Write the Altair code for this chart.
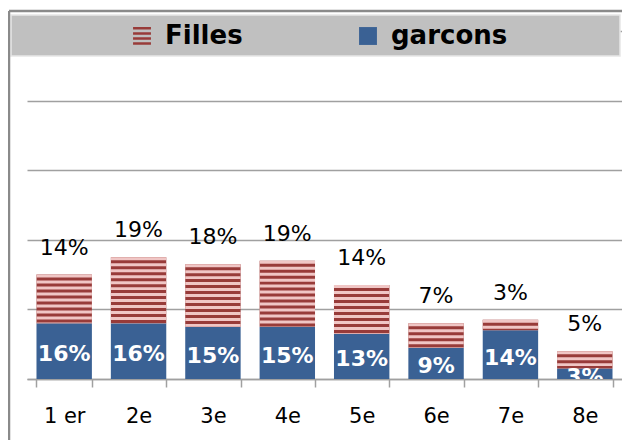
import altair as alt
import pandas as pd

categories = ["1 er", "2e", "3e", "4e", "5e", "6e", "7e", "8e"]
garcons = [16, 16, 15, 15, 13, 9, 14, 3]
filles = [14, 19, 18, 19, 14, 7, 3, 5]

series = ["Filles", "garcons"]
BLUE = "#3A6194"
DARK = "#983B39"
LIGHT = "#F0C6C5"
FONT = "DejaVu Sans"

rows = []
for c, g, f in zip(categories, garcons, filles):
    rows.append(dict(cat=c, sexe="garcons", y0=0, y1=g, mid=g / 2, label=f"{g}%"))
    rows.append(dict(cat=c, sexe="Filles", y0=g, y1=g + f, mid=g + f / 2, label=f"{f}%"))
df = pd.DataFrame(rows)

# light stripes of the hatched "Filles" segments (pattern decoration)
pitch = 1.72
srows = []
for c, g, f in zip(categories, garcons, filles):
    top = g + f
    s = top
    while s > g:
        srows.append(dict(cat=c, s0=max(s - pitch / 2, g), s1=s))
        s -= pitch
sdf = pd.DataFrame(srows)

xenc = alt.X(
    "cat:N", sort=categories,
    scale=alt.Scale(paddingInner=0.255, paddingOuter=0.1275),
    axis=alt.Axis(title=None, labelAngle=0, tickBand="extent", labelFont=FONT,
                  labelFontSize=21, labelColor="#000000", labelPadding=18,
                  domainColor="#a0a0a0", domainWidth=1.5, tickColor="#a0a0a0",
                  tickWidth=1.5, tickSize=8),
)
yscale = alt.Scale(domain=[0, 100], nice=False)
yaxis = alt.Axis(title=None, values=[0, 20, 40, 60, 80, 100], labels=False, ticks=False,
                 domain=False, grid=True, gridColor="#a0a0a0", gridWidth=1.5)

stripe_path = ("M-1,-1H1V-0.72H-1Z M-1,-0.43H1V-0.15H-1Z "
               "M-1,0.14H1V0.42H-1Z M-1,0.71H1V0.99H-1Z")

legend = alt.Legend(title=None, orient="none", legendX=102, legendY=-8,
                    direction="horizontal", labelFont=FONT, labelFontSize=26,
                    labelFontWeight="bold", labelColor="#000000", symbolSize=320,
                    symbolStrokeWidth=0, columnPadding=112, labelOffset=10, padding=0)
color = alt.Color("sexe:N", scale=alt.Scale(domain=series, range=[DARK, BLUE]), legend=legend)
shape = alt.Shape("sexe:N", scale=alt.Scale(domain=series, range=[stripe_path, "square"]),
                  legend=legend)

one = pd.DataFrame({"k": [0]})
box = alt.Chart(one).mark_rect(
    fill="#c0c0c0", stroke="#e6e6e6", strokeWidth=1.5
).encode(x=alt.value(-16), x2=alt.value(593), y=alt.value(-16), y2=alt.value(25))

frame_top = alt.Chart(one).mark_rule(color="#8a8a8a", strokeWidth=2.5).encode(
    x=alt.value(-18), x2=alt.value(600), y=alt.value(-20))
frame_left = alt.Chart(one).mark_rule(color="#8a8a8a", strokeWidth=2.5).encode(
    x=alt.value(-18), y=alt.value(-20), y2=alt.value(409))

base = alt.Chart(df)

points = base.mark_point(filled=True, size=20, opacity=1).encode(
    x=xenc, y=alt.Y("mid:Q", scale=yscale, axis=yaxis), color=color, shape=shape)

bars = base.mark_bar().encode(
    x=xenc, y=alt.Y("y0:Q", scale=yscale, axis=yaxis), y2="y1:Q", color=color)

stripes = alt.Chart(sdf).mark_bar(color=LIGHT).encode(
    x=xenc, y=alt.Y("s0:Q", scale=yscale, axis=yaxis), y2="s1:Q")

in_labels = base.transform_filter(alt.datum.sexe == "garcons").mark_text(
    color="white", font=FONT, fontSize=22, fontWeight="bold", baseline="middle", dy=3, clip=True
).encode(x=xenc, y=alt.Y("mid:Q", scale=yscale), text="label:N")

top_labels = base.transform_filter(alt.datum.sexe == "Filles").mark_text(
    color="black", font=FONT, fontSize=22, baseline="middle", dy=-27
).encode(x=xenc, y=alt.Y("y1:Q", scale=yscale), text="label:N")

chart = alt.layer(
    box, frame_top, frame_left, points, bars, stripes, in_labels, top_labels
).properties(
    width=595, height=348,
    autosize=alt.AutoSizeParams(type="none"),
    padding={"left": 19, "top": 23, "right": 0, "bottom": 61},
).configure_view(stroke=None)

chart.save("out.html", embed_options={"renderer": "svg", "actions": False})
